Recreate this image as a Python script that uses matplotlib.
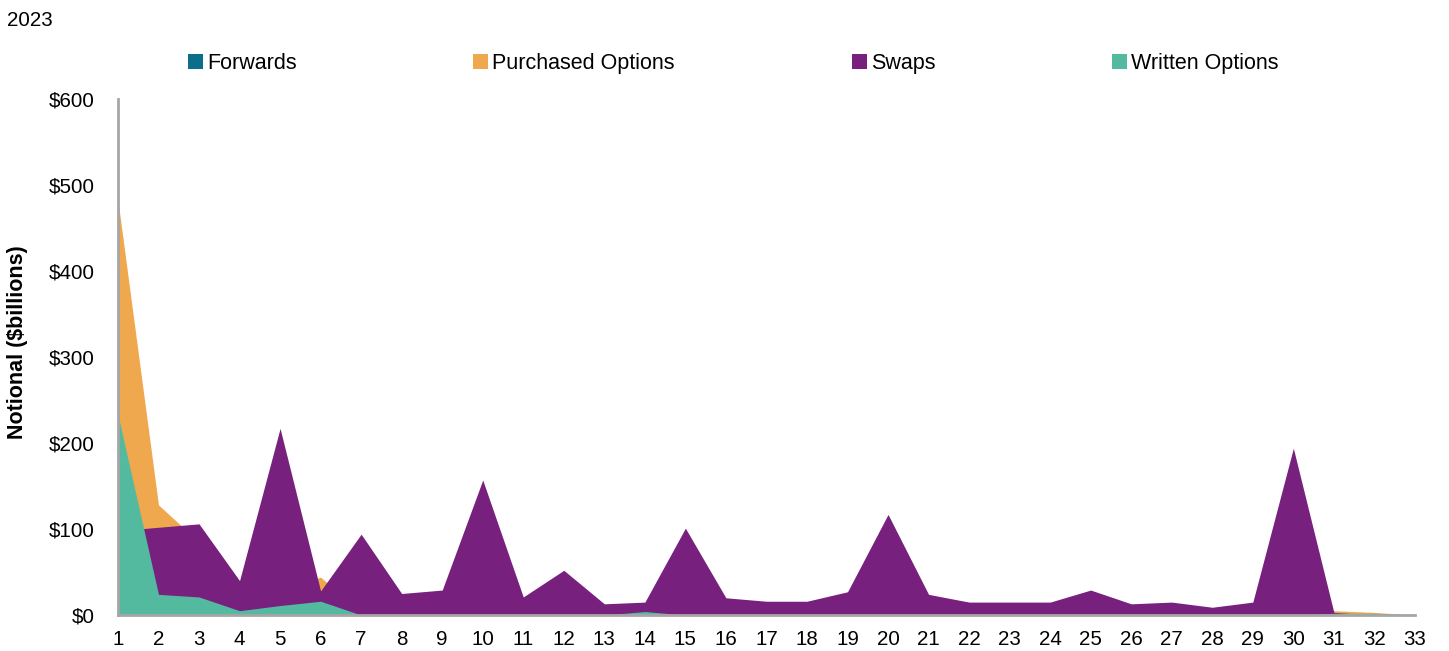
import numpy as np
import matplotlib.pyplot as plt
from matplotlib.patches import Patch

plt.rcParams['font.family'] = ['Liberation Sans', 'DejaVu Sans']

# maturity buckets and notional by instrument ($ billions)
buckets = list(range(1, 34))
forwards = [0] * 33
purchased = [482, 128, 85, 30, 30, 44, 4, 3, 3, 3, 2, 2, 2, 2, 2, 2, 2, 2, 2, 2,
             2, 2, 2, 2, 2, 2, 2, 2, 2, 2, 5, 3, 0]
swaps = [98, 102, 106, 40, 217, 28, 94, 25, 29, 157, 21, 52, 13, 15, 101, 20, 16, 16, 27, 117,
         24, 15, 15, 15, 29, 13, 15, 9, 15, 194, 3, 0, 0]
written = [233, 24, 21, 5, 11, 16, 0, 0, 0, 0, 0, 0, 0, 4, 0, 0, 0, 0, 0, 0,
           0, 0, 0, 0, 0, 0, 0, 0, 0, 0, 2, 2, 0]

names = ["Forwards", "Purchased Options", "Swaps", "Written Options"]
colors = ["#0B6E8A", "#F0A84E", "#77207D", "#53BAA0"]
series = [forwards, purchased, swaps, written]

fig = plt.figure(figsize=(14.49, 6.51), dpi=100)
ax = fig.add_axes([0.0814, 0.0553, 0.8951, 0.7926])

x = np.array(buckets)
for vals, c in zip(series, colors):
    ax.fill_between(x, 0, vals, color=c, linewidth=0)

ax.set_xlim(1, 33)
ax.set_ylim(0, 600)
ax.set_xticks(buckets)
ax.set_yticks(range(0, 601, 100))
ax.set_yticklabels([f"${v}" for v in range(0, 601, 100)])
ax.tick_params(axis='both', length=0, labelsize=14.8)
ax.tick_params(axis='x', pad=11)
ax.tick_params(axis='y', pad=17)

for side in ["top", "right"]:
    ax.spines[side].set_visible(False)
for side in ["left", "bottom"]:
    ax.spines[side].set_color("#A6A6A6")
    ax.spines[side].set_linewidth(2)

ax.set_ylabel("Notional ($billions)", fontsize=15.5, fontweight="bold")
ax.yaxis.set_label_coords(-0.069, 0.529)

fig.text(0.005, 0.969, "2023", fontsize=14.8, va="center", ha="left")

handles = [Patch(facecolor=c, edgecolor="none") for c in colors]
fig.legend(handles, names, loc="center", bbox_to_anchor=(0.506, 0.903), ncol=4,
           frameon=False, fontsize=15.5, handlelength=0.7, handleheight=0.7,
           handletextpad=0.2, columnspacing=8.2)

fig.savefig("out.png", dpi=100)
